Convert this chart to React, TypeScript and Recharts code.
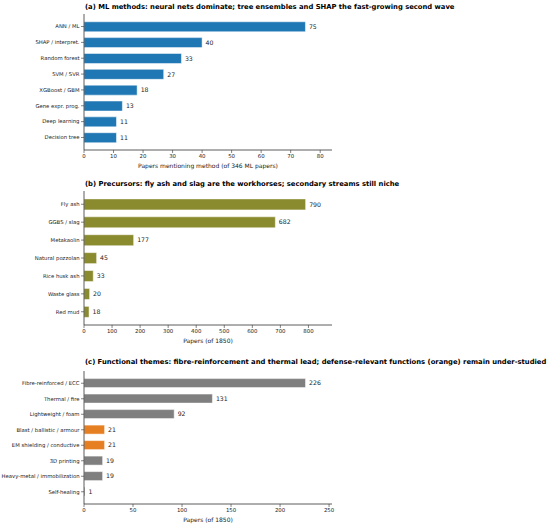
import React from "react";
import { BarChart, Bar, XAxis, YAxis, Cell, LabelList } from "recharts";

const mlMethods = ["ANN / ML", "SHAP / interpret.", "Random forest", "SVM / SVR", "XGBoost / GBM", "Gene expr. prog.", "Deep learning", "Decision tree"];
const mlCounts = [75, 40, 33, 27, 18, 13, 11, 11];
const mlTicks = [0, 10, 20, 30, 40, 50, 60, 70, 80];

const precursors = ["Fly ash", "GGBS / slag", "Metakaolin", "Natural pozzolan", "Rice husk ash", "Waste glass", "Red mud"];
const precursorCounts = [790, 682, 177, 45, 33, 20, 18];
const precursorTicks = [0, 100, 200, 300, 400, 500, 600, 700, 800];

const themes = ["Fibre-reinforced / ECC", "Thermal / fire", "Lightweight / foam", "Blast / ballistic / armour", "EM shielding / conductive", "3D printing", "Heavy-metal / immobilization", "Self-healing"];
const themeCounts = [226, 131, 92, 21, 21, 19, 19, 1];
const themeDefense = [false, false, false, true, true, false, false, false];
const themeTicks = [0, 50, 100, 150, 200, 250];

const FONT = "'DejaVu Sans', sans-serif";
const AXIS = "#333";

type PanelProps = {
  title: string;
  names: string[];
  values: number[];
  colors: string[];
  domainMax: number;
  ticks: number[];
  xLabel: string;
  top: number;
  plotTop: number;
  axisY: number;
  titleY: number;
  pad: number;
};

function CatTick(props: any) {
  const { x, y, payload } = props;
  return (
    <text x={x} y={y} dy="0.35em" textAnchor="end" fontSize={5.3} fill="#222" fontFamily={FONT}>
      {payload.value}
    </text>
  );
}

function Panel(p: PanelProps) {
  const data = p.names.map((n, i) => ({ name: n, value: p.values[i] }));
  const xh = 20;
  const height = p.axisY - p.top + xh;
  return (
    <div style={{ position: "absolute", left: 0, top: p.top, width: 550, height }}>
      <BarChart
        width={550}
        height={height}
        data={data}
        layout="vertical"
        barCategoryGap="20%"
        margin={{ top: p.plotTop - p.top, right: 218, bottom: 0, left: 0 }}
      >
        <XAxis
          type="number"
          domain={[0, p.domainMax]}
          ticks={p.ticks}
          allowDataOverflow
          height={xh}
          tickSize={3}
          tickMargin={1}
          stroke={AXIS}
          tick={{ fontSize: 5.4, fill: "#222", fontFamily: FONT }}
          tickLine={{ stroke: AXIS, strokeWidth: 0.6 }}
          axisLine={{ stroke: AXIS, strokeWidth: 0.8 }}
          label={{ value: p.xLabel, position: "insideBottom", offset: 2, fontSize: 6, fill: "#222", fontFamily: FONT }}
        />
        <YAxis
          type="category"
          dataKey="name"
          width={84}
          padding={{ top: p.pad, bottom: p.pad }}
          tickSize={3}
          tickMargin={1.5}
          interval={0}
          stroke={AXIS}
          tick={<CatTick />}
          tickLine={{ stroke: AXIS, strokeWidth: 0.6 }}
          axisLine={{ stroke: AXIS, strokeWidth: 0.8 }}
        />
        <Bar dataKey="value" isAnimationActive={false} stroke="#fff" strokeWidth={0.5}>
          {data.map((d, i) => (
            <Cell key={d.name} fill={p.colors[i]} />
          ))}
          <LabelList dataKey="value" position="right" offset={3.5} style={{ fontSize: 6.2, fill: "#222", fontFamily: FONT }} />
        </Bar>
      </BarChart>
      <div
        style={{
          position: "absolute",
          left: 85,
          top: p.titleY - p.top - 4.5,
          fontFamily: FONT,
          fontWeight: "bold",
          fontSize: 6.8,
          lineHeight: "9px",
          whiteSpace: "nowrap",
          color: "#000",
        }}
      >
        {p.title}
      </div>
    </div>
  );
}

export default function App() {
  return (
    <div style={{ position: "absolute", left: 0, top: 0, width: 550, height: 526, background: "#fff", overflow: "hidden" }}>
      <Panel
        title="(a) ML methods: neural nets dominate; tree ensembles and SHAP the fast-growing second wave"
        names={mlMethods}
        values={mlCounts}
        colors={mlMethods.map(() => "#1f77b4")}
        domainMax={84}
        ticks={mlTicks}
        xLabel="Papers mentioning method (of 346 ML papers)"
        top={0}
        plotTop={14}
        axisY={150}
        titleY={7}
        pad={4.6}
      />
      <Panel
        title="(b) Precursors: fly ash and slag are the workhorses; secondary streams still niche"
        names={precursors}
        values={precursorCounts}
        colors={precursors.map(() => "#8a8a2e")}
        domainMax={884}
        ticks={precursorTicks}
        xLabel="Papers (of 1850)"
        top={176}
        plotTop={191}
        axisY={325}
        titleY={184}
        pad={4.3}
      />
      <Panel
        title="(c) Functional themes: fibre-reinforcement and thermal lead; defense-relevant functions (orange) remain under-studied"
        names={themes}
        values={themeCounts}
        colors={themeDefense.map((d) => (d ? "#e67e22" : "#7f7f7f"))}
        domainMax={253}
        ticks={themeTicks}
        xLabel="Papers (of 1850)"
        top={354}
        plotTop={371}
        axisY={504}
        titleY={362}
        pad={4.5}
      />
    </div>
  );
}
